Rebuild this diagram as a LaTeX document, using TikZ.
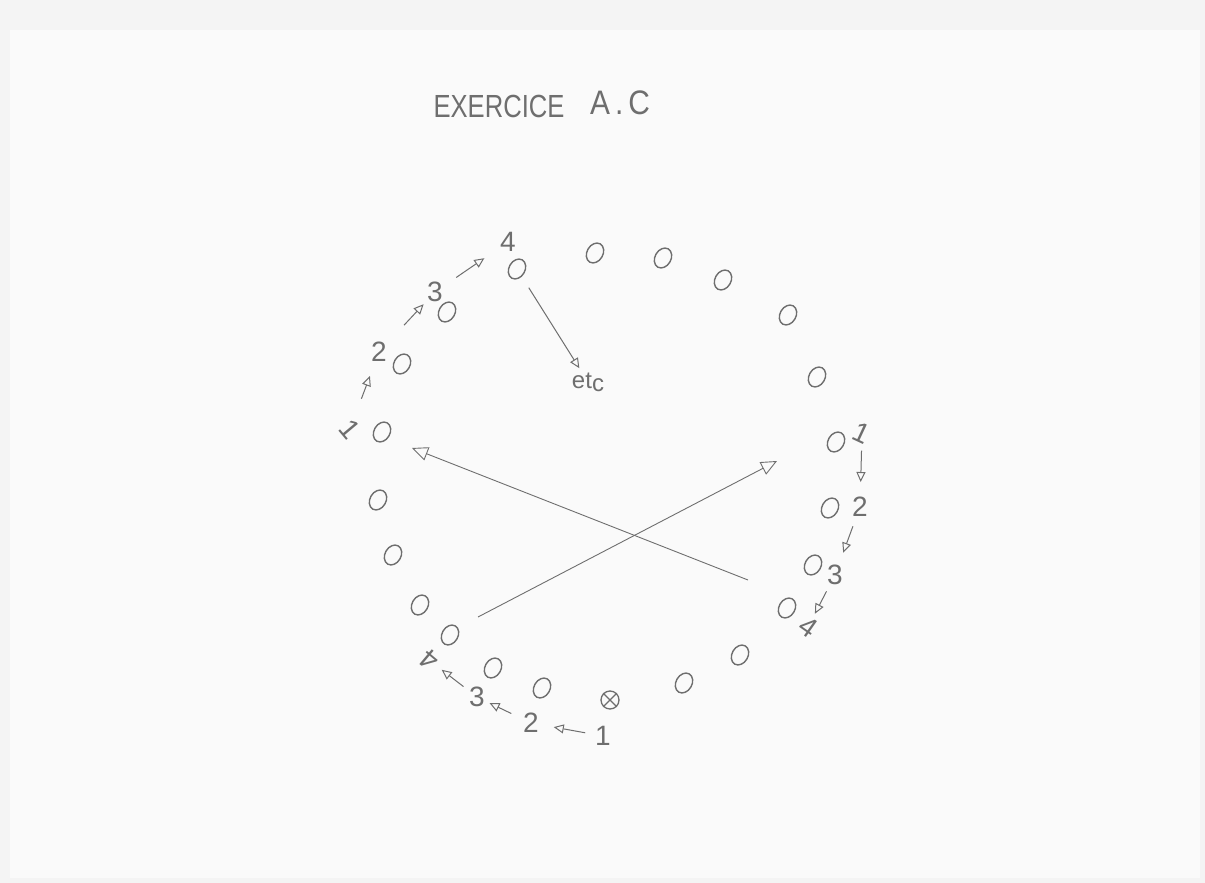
\documentclass[tikz,border=0pt]{standalone}
\usepackage{fontspec}
\setmainfont{Liberation Sans}
\usetikzlibrary{arrows.meta,shapes.geometric,shapes.misc}
\definecolor{ink}{RGB}{110,110,110}
\definecolor{paper}{RGB}{244,244,244}
\definecolor{sheet}{RGB}{250,250,250}
\begin{document}
\begin{tikzpicture}[x=1pt,y=-1pt,
  seat/.style={draw=ink,ellipse,line width=1.4pt,minimum width=16pt,minimum height=21pt,inner sep=0pt,rotate=-30},
  num/.style={text=ink,font=\fontsize{28}{28}\selectfont,inner sep=0pt},
  ttl/.style={text=ink,font=\fontsize{32}{32}\selectfont,inner sep=0pt,xscale=0.8},
  bigarr/.style={draw=ink,line width=0.9pt,-{Triangle[open,length=16pt,width=14pt]}},
  smallarr/.style={draw=ink,line width=1pt,-{Triangle[open,length=10pt,width=9pt]}}]
\fill[paper] (0,0) rectangle (1205,883);
\fill[sheet] (10,30) rectangle (1200,878);
\useasboundingbox (0,0) rectangle (1205,883);

% title
\node[ttl] (t1) at (499,106) {EXERCICE};
\node[ttl,font=\fontsize{34}{34}\selectfont,xscale=1.1] (t2) at (620,103) {A\,.\,C};

% seats
\node[seat] (c4) at (517,269) {};
\node[seat] (c5) at (595,253) {};
\node[seat] (c6) at (663,258) {};
\node[seat] (c7) at (723,280) {};
\node[seat] (c8) at (788,315) {};
\node[seat] (c9) at (817,377) {};
\node[seat] (cR1) at (836,442) {};
\node[seat] (cR2) at (830,508) {};
\node[seat] (cR3) at (813,565) {};
\node[seat] (cR4) at (787,608) {};
\node[seat] (c14) at (740,655) {};
\node[seat] (c15) at (684,683) {};
\node[draw=ink,circle,line width=1.3pt,minimum size=18pt,inner sep=0pt] (cx) at (610,700) {};
\draw[ink,line width=1.1pt] (cx.north west) -- (cx.south east) (cx.north east) -- (cx.south west);
\node[seat] (c17) at (542,688) {};
\node[seat] (c18) at (493,668) {};
\node[seat] (cB4) at (450,635) {};
\node[seat] (c20) at (420,605) {};
\node[seat] (c21) at (393,555) {};
\node[seat] (c22) at (378,500) {};
\node[seat] (cL1) at (382,432) {};
\node[seat] (cL2) at (402,364) {};
\node[seat] (cL3) at (447,312) {};

% left numbers
\node[num,rotate=-50] (L1) at (350,429) {1};
\node[num] (L2) at (379,352) {2};
\node[num] (L3) at (435,292) {3};
\node[num] (L4) at (508,242) {4};
% right numbers
\node[num,rotate=-25] (R1) at (862,433) {1};
\node[num] (R2) at (860,507) {2};
\node[num] (R3) at (835,575) {3};
\node[num,rotate=-35] (R4) at (808,627) {4};
% bottom numbers
\node[num] (B1) at (603,736) {1};
\node[num] (B2) at (531,723) {2};
\node[num] (B3) at (477,697) {3};
\node[num,rotate=140] (B4) at (429,660) {4};
% etc
\node[text=ink,inner sep=0pt,font=\fontsize{24}{24}\selectfont] (etc) at (588,382) {et\raisebox{-3pt}{c}};

% small arrows
\draw[smallarr,shorten <=21pt,shorten >=15pt] (L1) -- (L2);
\draw[smallarr,shorten <=25pt,shorten >=5pt] (L2) -- (L3);
\draw[smallarr,shorten <=16pt,shorten >=19pt] (L3) -- (L4);
\draw[smallarr,shorten <=7pt,shorten >=15pt] (R1) -- (R2);
\draw[smallarr,shorten <=10pt,shorten >=13pt] (R2) -- (R3);
\draw[smallarr,shorten <=7pt,shorten >=5pt] (R3) -- (R4);
\draw[smallarr,shorten <=10pt,shorten >=15pt] (B1) -- (B2);
\draw[smallarr,shorten <=13pt,shorten >=5pt] (B2) -- (B3);
\draw[smallarr,shorten <=7pt,shorten >=8pt] (B3) -- (B4);
\draw[smallarr,shorten <=13pt,shorten >=5pt] (c4) -- (etc);

% big crossing arrows
\coordinate (a1s) at (748,580);
\coordinate (a1e) at (412,448);
\coordinate (a2s) at (478,617);
\coordinate (a2e) at (777,461);
\draw[bigarr] (a1s) -- (a1e);
\draw[bigarr] (a2s) -- (a2e);
\end{tikzpicture}
\end{document}
